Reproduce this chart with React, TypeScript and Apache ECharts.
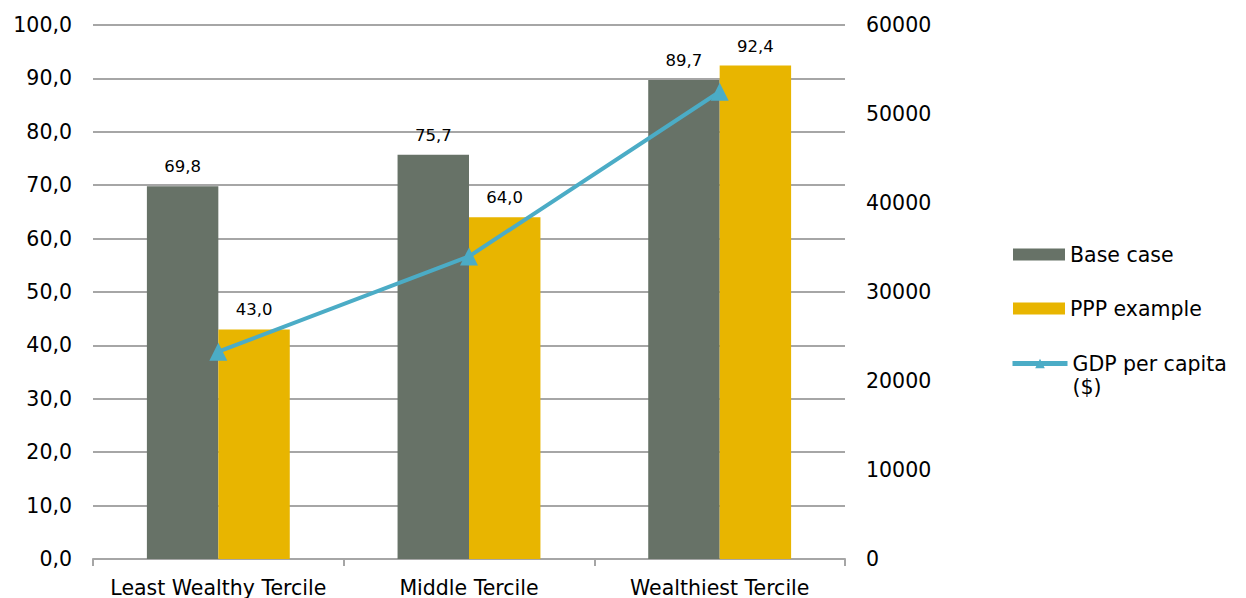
import React, { useEffect, useRef } from "react";
import * as echarts from "echarts";

const categories = ["Least Wealthy Tercile", "Middle Tercile", "Wealthiest Tercile"];
const baseCase = [69.8, 75.7, 89.7];
const pppExample = [43.0, 64.0, 92.4];
const gdpPerCapita = [23300, 34000, 52500];

const FONT = "DejaVu Sans";
const AXIS_FS = 20.5;
const fmt = (v: number) => v.toFixed(1).replace(".", ",");

export default function App() {
  const ref = useRef<HTMLDivElement>(null);
  useEffect(() => {
    if (!ref.current) return;
    const chart = echarts.init(ref.current, undefined, { renderer: "svg" });
    const legendText = { fontFamily: FONT, fontSize: AXIS_FS, color: "#000", lineHeight: 23 };
    const barLabel = {
      show: true,
      position: "top",
      distance: 11,
      fontFamily: FONT,
      fontSize: 16.5,
      color: "#000",
      formatter: (p: any) => fmt(p.value),
    };
    chart.setOption({
      animation: false,
      backgroundColor: "#ffffff",
      textStyle: { fontFamily: FONT },
      grid: { left: 93, right: 401, top: 25, bottom: 38, containLabel: false },
      legend: [
        {
          orient: "vertical",
          left: 1013,
          top: 243,
          padding: 0,
          itemWidth: 52,
          itemHeight: 12,
          itemGap: 31,
          textStyle: legendText,
          data: [
            { name: "Base case", icon: "rect" },
            { name: "PPP example", icon: "rect" },
          ],
        },
        {
          orient: "vertical",
          left: 1010,
          top: 329,
          padding: 0,
          itemWidth: 55,
          itemHeight: 12,
          textStyle: legendText,
          formatter: (n: string) => "\n" + n,
          data: [
            {
              name: "GDP per capita\n($)",
              lineStyle: { width: 5 },
            },
          ],
        },
      ],
      xAxis: {
        type: "category",
        data: categories,
        axisLine: { lineStyle: { color: "#a6a6a6", width: 2 } },
        axisTick: { show: true, length: 7, lineStyle: { color: "#a6a6a6", width: 2 } },
        axisLabel: { fontFamily: FONT, fontSize: AXIS_FS, color: "#000", margin: 18, interval: 0 },
      },
      yAxis: [
        {
          type: "value",
          min: 0,
          max: 100,
          interval: 10,
          axisLine: { show: false },
          axisTick: { show: false },
          splitLine: { lineStyle: { color: "#a6a6a6", width: 2 } },
          axisLabel: { fontFamily: FONT, fontSize: AXIS_FS, color: "#000", margin: 21, formatter: fmt },
        },
        {
          type: "value",
          min: 0,
          max: 60000,
          interval: 10000,
          position: "right",
          axisLine: { show: false },
          axisTick: { show: false },
          splitLine: { show: false },
          axisLabel: {
            fontFamily: FONT,
            fontSize: AXIS_FS,
            color: "#000",
            margin: 21,
            formatter: (v: number) => String(v),
          },
        },
      ],
      series: [
        {
          name: "Base case",
          type: "bar",
          data: baseCase,
          barGap: "0%",
          barCategoryGap: "43%",
          itemStyle: { color: "#677267" },
          label: barLabel,
        },
        {
          name: "PPP example",
          type: "bar",
          data: pppExample,
          itemStyle: { color: "#E8B500" },
          label: barLabel,
        },
        {
          name: "GDP per capita\n($)",
          type: "line",
          yAxisIndex: 1,
          data: gdpPerCapita,
          symbol: "triangle",
          symbolSize: 18,
          lineStyle: { color: "#4BACC6", width: 4 },
          itemStyle: { color: "#4BACC6" },
          z: 5,
        },
      ],
    });
    return () => chart.dispose();
  }, []);
  return (
    <div
      ref={ref}
      style={{ position: "fixed", left: 0, top: 0, width: 1246, height: 598 }}
    />
  );
}
